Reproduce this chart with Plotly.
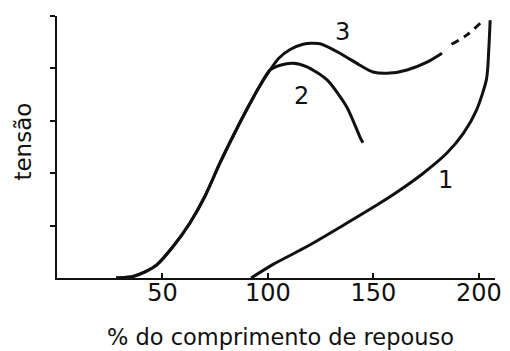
import plotly.graph_objects as go

# Curve 1: passive tension vs. % of resting length
passive_x = [92, 102.4, 118.5, 134.2, 153.1, 162.6, 173.6, 184.7, 192.6, 198.9, 203.6, 204.7, 205.3]
passive_y = [0.0, 0.26, 0.60, 0.97, 1.43, 1.68, 2.00, 2.38, 2.76, 3.21, 3.80, 4.40, 4.92]

# Shared rising branch of curves 2 and 3
rise_x = [28, 36, 42, 47.3, 55, 63, 70, 77.3, 83.6, 90, 96.3, 101]
rise_y = [0.0, 0.03, 0.12, 0.25, 0.60, 1.05, 1.55, 2.20, 2.72, 3.22, 3.68, 3.97]

# Curve 2: active tension
active_x = [105.8, 111.9, 118.5, 128.0, 137.4, 143.6, 145.0]
active_y = [4.06, 4.10, 4.03, 3.78, 3.26, 2.69, 2.58]

# Curve 3: total tension (solid part, then dashed extrapolation)
total_x = [105.0, 110.5, 116.6, 120.7, 124.7, 134.1, 143.6, 149.8, 157.8, 165.9, 175.4, 182.5]
total_y = [4.19, 4.36, 4.46, 4.48, 4.47, 4.29, 4.06, 3.93, 3.91, 3.97, 4.12, 4.29]
total_dash_x = [187.0, 194.3, 201.6]
total_dash_y = [4.46, 4.64, 4.90]

# Curve labels
label_text = ["1", "2", "3"]
label_x = [183.9, 116.1, 135.5]
label_y = [1.87, 3.47, 4.69]

x_ticks = [50, 100, 150, 200]
y_ticks = [1, 2, 3, 4, 5]

FONT = "DejaVu Sans"
INK = "#111111"
line_style = dict(color=INK, width=3, shape="spline", smoothing=0.7)

fig = go.Figure()
fig.add_trace(go.Scatter(x=passive_x, y=passive_y, mode="lines", line=line_style, hoverinfo="skip"))
fig.add_trace(go.Scatter(x=rise_x + active_x, y=rise_y + active_y, mode="lines", line=line_style, hoverinfo="skip"))
fig.add_trace(go.Scatter(x=rise_x + total_x, y=rise_y + total_y, mode="lines", line=line_style, hoverinfo="skip"))
fig.add_trace(go.Scatter(x=total_dash_x, y=total_dash_y, mode="lines",
                         line=dict(color=INK, width=3, dash="8px,6px", shape="spline"), hoverinfo="skip"))

for t, lx, ly in zip(label_text, label_x, label_y):
    fig.add_annotation(x=lx, y=ly, text=t, showarrow=False,
                       font=dict(family=FONT, size=24, color=INK))

# Axis titles placed as paper-anchored annotations
fig.add_annotation(xref="paper", yref="paper", x=-0.078, y=0.52, text="tensão",
                   textangle=-90, showarrow=False, xanchor="center", yanchor="middle",
                   font=dict(family=FONT, size=23, color=INK))
fig.add_annotation(xref="paper", yref="paper", x=0.511, y=-0.225, text="% do comprimento de repouso",
                   showarrow=False, xanchor="center", yanchor="middle",
                   font=dict(family=FONT, size=22.5, color=INK))

fig.update_layout(
    width=510, height=351,
    margin=dict(l=57, r=15, t=16, b=73, autoexpand=False),
    paper_bgcolor="white", plot_bgcolor="white",
    showlegend=False,
    xaxis=dict(range=[0, 207.6], showgrid=False, zeroline=False, automargin=False,
               showline=True, linecolor=INK, linewidth=2,
               tickmode="array", tickvals=x_ticks, ticktext=[str(v) for v in x_ticks],
               ticks="inside", ticklen=5, tickwidth=1.5, tickcolor=INK,
               ticklabelstandoff=-8,
               tickfont=dict(family=FONT, size=24, color=INK)),
    yaxis=dict(range=[0, 5], showgrid=False, zeroline=False, automargin=False,
               showline=True, linecolor=INK, linewidth=2,
               tickmode="array", tickvals=y_ticks, showticklabels=False,
               ticks="outside", ticklen=5, tickwidth=1.5, tickcolor=INK),
)

fig.write_html("out.html")
